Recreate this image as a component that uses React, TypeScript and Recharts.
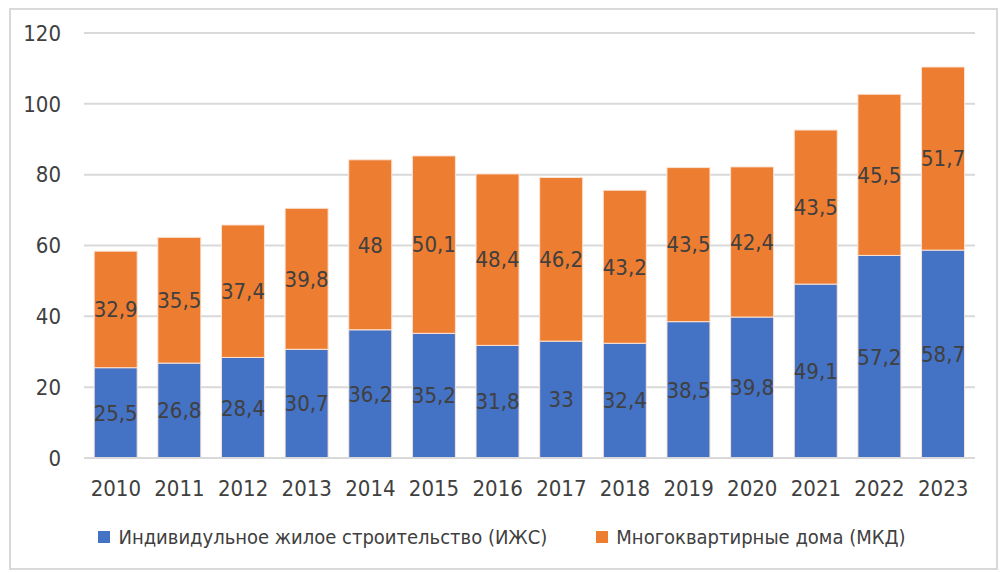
import { Bar, BarChart, CartesianGrid, LabelList, XAxis, YAxis } from "recharts";

const YEARS = ["2010", "2011", "2012", "2013", "2014", "2015", "2016", "2017", "2018", "2019", "2020", "2021", "2022", "2023"];
const IZHS = [25.5, 26.8, 28.4, 30.7, 36.2, 35.2, 31.8, 33, 32.4, 38.5, 39.8, 49.1, 57.2, 58.7];
const MKD = [32.9, 35.5, 37.4, 39.8, 48, 50.1, 48.4, 46.2, 43.2, 43.5, 42.4, 43.5, 45.5, 51.7];
const Y_TICKS = [0, 20, 40, 60, 80, 100, 120];

const SERIES = [
    { key: "izhs", name: "Индивидульное жилое строительство (ИЖС)", color: "#4472C4" },
    { key: "mkd", name: "Многоквартирные дома (МКД)", color: "#ED7D31" },
];

const FONT = '"DejaVu Sans Condensed", "Liberation Sans", sans-serif';
const TEXT = "#404040";

const data = YEARS.map((year, i) => ({ year, izhs: IZHS[i], mkd: MKD[i] }));

const fmt = (v: any) => String(v).replace(".", ",");

export default function App() {
    return (
        <div style={{ position: "absolute", left: 0, top: 0, width: 1004, height: 573, background: "#fff", fontFamily: FONT }}>
            <div
                style={{
                    position: "absolute",
                    left: 9,
                    top: 8,
                    width: 985,
                    height: 558,
                    border: "2px solid #d9d9d9",
                }}
            />
            <div style={{ position: "absolute", left: 0, top: 0 }}>
                <BarChart
                    width={1004}
                    height={573}
                    data={data}
                    margin={{ top: 33, right: 29, bottom: 85, left: 0 }}
                    barCategoryGap="16%"
                >
                    <CartesianGrid vertical={false} stroke="#d9d9d9" strokeWidth={2} />
                    <XAxis
                        dataKey="year"
                        height={30}
                        axisLine={{ stroke: "#d9d9d9", strokeWidth: 2 }}
                        tickLine={false}
                        tickSize={0}
                        tickMargin={22}
                        tick={{ fill: TEXT, fontSize: 22, fontFamily: FONT }}
                        interval={0}
                    />
                    <YAxis
                        width={84}
                        domain={[0, 120]}
                        ticks={Y_TICKS}
                        axisLine={false}
                        tickLine={false}
                        tickSize={0}
                        tickMargin={23}
                        tick={{ fill: TEXT, fontSize: 22, fontFamily: FONT }}
                    />
                    {SERIES.map((s) => (
                        <Bar
                            key={s.key}
                            dataKey={s.key}
                            name={s.name}
                            stackId="a"
                            fill={s.color}
                            stroke="#fbe3d6"
                            strokeWidth={1}
                            isAnimationActive={false}
                        >
                            <LabelList
                                dataKey={s.key}
                                position="center"
                                formatter={fmt}
                                fill={TEXT}
                                fontSize={22}
                                fontFamily={FONT}
                            />
                        </Bar>
                    ))}
                </BarChart>
            </div>
            <div
                style={{
                    position: "absolute",
                    left: 0,
                    top: 522,
                    width: 1004,
                    height: 30,
                    display: "flex",
                    justifyContent: "center",
                    alignItems: "center",
                    gap: 49,
                    color: TEXT,
                    fontSize: 20,
                }}
            >
                {SERIES.map((s) => (
                    <div key={s.key} style={{ display: "flex", alignItems: "center", gap: 8 }}>
                        <div style={{ width: 12, height: 12, background: s.color }} />
                        <span>{s.name}</span>
                    </div>
                ))}
            </div>
        </div>
    );
}
